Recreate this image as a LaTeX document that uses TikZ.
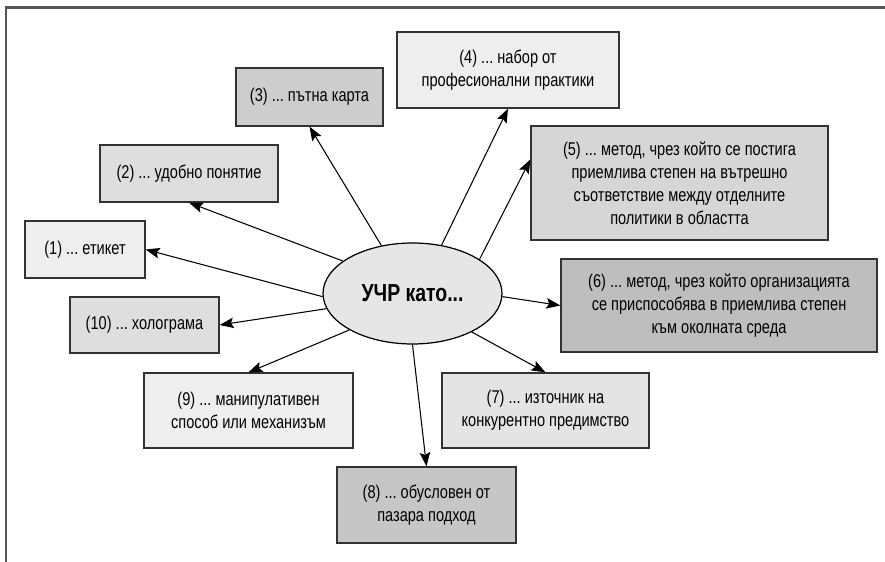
\documentclass[tikz,border=0pt]{standalone}
\usepackage{fontspec}
\setmainfont{Liberation Sans}[FakeStretch=0.79]
\usetikzlibrary{arrows.meta,positioning,shapes.geometric}
\definecolor{frame}{HTML}{555555}
\definecolor{tone1}{HTML}{EEEEEE}
\definecolor{tone2}{HTML}{DEDEDE}
\definecolor{tone3}{HTML}{CDCDCD}
\definecolor{tone4}{HTML}{D6D6D6}
\definecolor{tone5}{HTML}{BEBEBE}
\definecolor{tone6}{HTML}{E4E4E4}
\definecolor{tone7}{HTML}{C6C6C6}
\definecolor{hub}{HTML}{E6E6E6}
\frenchspacing
\begin{document}
\begin{tikzpicture}[
  box/.style={draw=black!80, line width=0.7pt, inner sep=0pt, align=center,
              font=\fontsize{10.5}{13}\selectfont},
  arr/.style={-{Stealth[length=8pt,width=6pt,inset=1.5pt]}, line width=0.6pt}
]
  \useasboundingbox (0,0) rectangle (17.70,-11.24);
  % Frame
  \draw[frame, line width=1.2pt] (0.12,-11.24) -- (0.12,-0.15) -- (17.70,-0.15);

  % Centre
  \node[ellipse, draw, fill=hub, line width=0.7pt, minimum width=3.58cm, minimum height=2.02cm,
        inner sep=0pt, font=\fontsize{14}{16}\selectfont\bfseries] (hr) at (8.25,-5.87) {УЧР като...};

  % Boxes
  \node[box, fill=tone1, minimum width=2.40cm, minimum height=1.14cm] (b1) at (1.70,-4.99) {(1) ... етикет};
  \node[box, fill=tone2, minimum width=3.56cm, minimum height=1.14cm] (b2) at (3.78,-3.47) {(2) ... удобно понятие};
  \node[box, fill=tone3, minimum width=2.94cm, minimum height=1.16cm] (b3) at (6.19,-1.94) {(3) ... пътна карта};
  \node[box, fill=tone1, minimum width=4.44cm, minimum height=1.52cm] (b4) at (10.16,-1.40) {(4) ... набор от\\професионални практики};
  \node[box, fill=tone4, minimum width=5.94cm, minimum height=2.28cm] (b5) at (13.59,-3.66) {(5) ... метод, чрез който се постига\\приемлива степен на вътрешно\\съответствие между отделните\\политики в областта};
  \node[box, fill=tone5, minimum width=6.32cm, minimum height=1.86cm] (b6) at (14.38,-6.11) {(6) ... метод, чрез който организацията\\се приспособява в приемлива степен\\към околната среда};
  \node[box, fill=tone6, minimum width=4.14cm, minimum height=1.50cm] (b7) at (10.91,-8.21) {(7) ... източник на\\конкурентно предимство};
  \node[box, fill=tone7, minimum width=3.58cm, minimum height=1.52cm] (b8) at (8.53,-10.10) {(8) ... обусловен от\\пазара подход};
  \node[box, fill=tone1, minimum width=4.18cm, minimum height=1.50cm] (b9) at (4.97,-8.21) {(9) ... манипулативен\\способ или механизъм};
  \node[box, fill=tone2, minimum width=2.98cm, minimum height=1.12cm] (b10) at (2.89,-6.50) {(10) ... холограма};

  % Arrows
  \draw[arr] (hr.182) -- (b1.east);
  \draw[arr] (hr.155) -- (b2.south);
  \draw[arr] (hr.123) -- (b3.south);
  \draw[arr] (hr.59) -- (b4.south);
  \draw[arr] (hr.27) -- (b5.171);
  \draw[arr] (hr.358) -- (b6.west);
  \draw[arr] (hr.327) -- (b7.north);
  \draw[arr] (hr.270) -- (b8.north);
  \draw[arr] (hr.210) -- (b9.north);
  \draw[arr] (hr.190) -- (b10.east);
\end{tikzpicture}
\end{document}
